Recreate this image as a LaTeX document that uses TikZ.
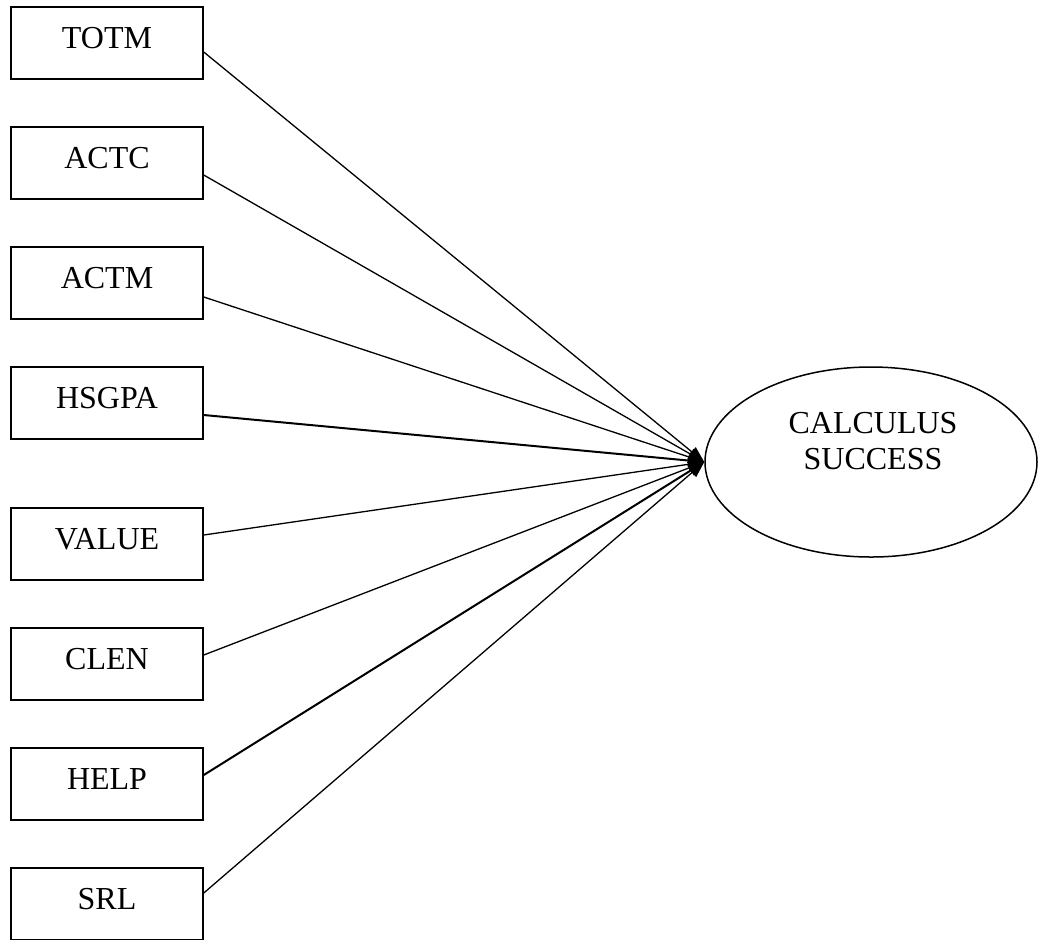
\documentclass[tikz,border=0pt]{standalone}
\usepackage{fontspec}
\setmainfont{Liberation Serif}
\usetikzlibrary{calc,arrows.meta,shapes.geometric}
\begin{document}
\begin{tikzpicture}[x=0.5pt,y=-0.5pt,
  varbox/.style={draw,line width=0.75pt,rectangle,minimum width=96pt,minimum height=36pt,inner sep=0pt,
    font=\fontsize{16}{18}\selectfont,text height=10.6pt,text depth=5pt},
  conn/.style={line width=0.65pt,-{Triangle[length=8pt,width=6pt]}},
  thick conn/.style={conn,line width=1pt}]
\useasboundingbox (0,0) rectangle (1038,939);
\node[varbox] (totm)  at (107,43)  {TOTM};
\node[varbox] (actc)  at (107,163) {ACTC};
\node[varbox] (actm)  at (107,283) {ACTM};
\node[varbox] (hsgpa) at (107,403) {HSGPA};
\node[varbox] (value) at (107,544) {VALUE};
\node[varbox] (clen)  at (107,664) {CLEN};
\node[varbox] (help)  at (107,784) {HELP};
\node[varbox] (srl)   at (107,904) {SRL};
\node[draw,ellipse,line width=0.75pt,minimum width=166pt,minimum height=95pt,inner sep=0pt] (calc) at (871,462) {};
\node[align=center,font=\fontsize{16}{18}\selectfont,inner sep=0pt] (calctext) at (873,441) {CALCULUS\\SUCCESS};
\draw[conn] ($(totm.east)+(0,9)$) -- (calc.west);
\draw[conn] ($(actc.east)+(0,12)$) -- (calc.west);
\draw[conn] ($(actm.east)+(0,14)$) -- (calc.west);
\draw[thick conn] ($(hsgpa.east)+(0,12)$) -- (calc.west);
\draw[conn] ($(value.east)+(0,-9)$) -- (calc.west);
\draw[conn] ($(clen.east)+(0,-9)$) -- (calc.west);
\draw[thick conn] ($(help.east)+(0,-9)$) -- (calc.west);
\draw[conn] ($(srl.east)+(0,-11)$) -- (calc.west);
\end{tikzpicture}
\end{document}
